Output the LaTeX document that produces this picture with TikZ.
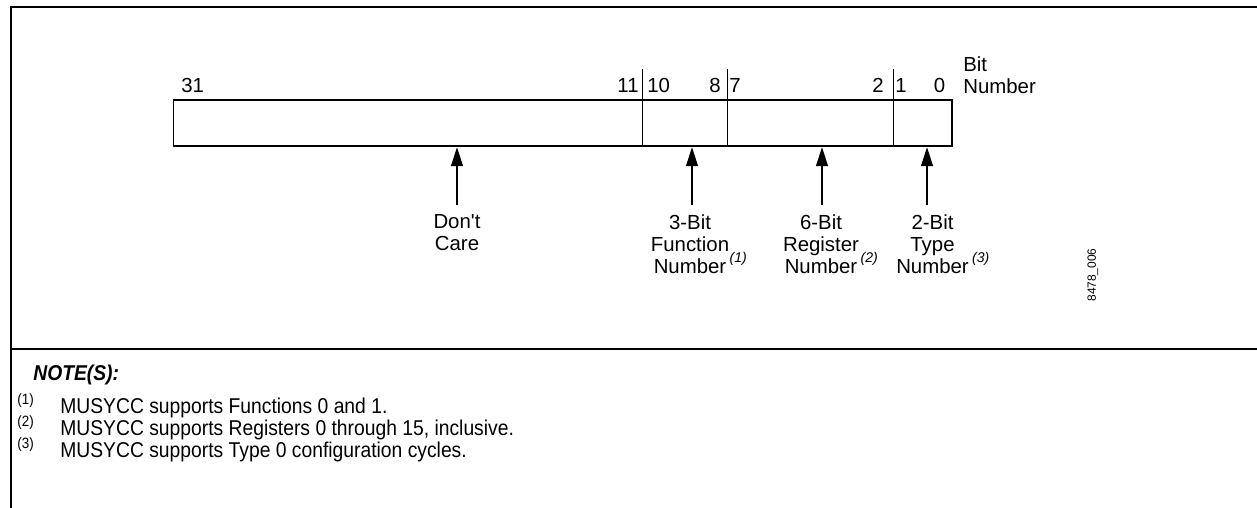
\documentclass[tikz,border=0pt]{standalone}
\usepackage{fontspec}
\setmainfont{Liberation Sans}
\newfontfamily\narrowfont{Liberation Sans}[FakeStretch=0.9]
\usetikzlibrary{arrows.meta}

\newcommand{\labelmark}[1]{\rlap{\,\smash{\raisebox{6.3pt}{\fontsize{8}{9}\selectfont\itshape(#1)}}}}

\begin{document}
\begin{tikzpicture}[
    every node/.style={inner sep=0pt, font=\fontsize{11.6}{12.5}\selectfont},
    frame/.style={line width=1.4pt},
    divider/.style={line width=0.55pt},
    pointer/.style={line width=0.7pt, -{Triangle[length=0.38cm,width=0.24cm]}},
    notetext/.style={anchor=base west, font=\narrowfont\fontsize{12.2}{13}\selectfont},
    notemark/.style={anchor=base west, yshift=5pt, font=\narrowfont\fontsize{8.5}{9}\selectfont}
]
    \useasboundingbox (0,0) rectangle (25.14,-10.16);

    % outer frame and notes rule
    \draw[frame] (0.22,-10.4) -- (0.22,-0.14) -- (25.4,-0.14);
    \draw[frame] (0.22,-6.98) -- (25.4,-6.98);

    %%%%%%%%%%%%%%%%%%%%%%%%%%%%%%%%%%%%
    % the 32-bit word with its fields
    %%%%%%%%%%%%%%%%%%%%%%%%%%%%%%%%%%%%
    \node[draw, line width=1.1pt, minimum width=15.57cm, minimum height=0.93cm] (word) at (11.255,-2.46) {};
    \foreach \x in {12.84,14.54,17.86}
        \draw[divider] (\x,-1.38) -- (\x,-2.92);

    \node[anchor=base west] (b31) at (3.62,-1.84) {31};
    \node[anchor=base east] (b11) at (12.78,-1.84) {11};
    \node[anchor=base west] (b10) at (12.94,-1.84) {10};
    \node[anchor=base east] (b8) at (14.42,-1.84) {8};
    \node[anchor=base west] (b7) at (14.58,-1.84) {7};
    \node[anchor=base east] (b2) at (17.68,-1.84) {2};
    \node[anchor=base west] (b1) at (17.90,-1.84) {1};
    \node[anchor=base] (b0) at (18.79,-1.84) {0};
    \node[anchor=north west, align=left] (bitnum) at (19.26,-1.12) {Bit\\Number};

    % pointers up to the fields
    \coordinate (dcare) at (9.14,-4.10);
    \coordinate (func) at (13.84,-4.10);
    \coordinate (reg) at (16.44,-4.10);
    \coordinate (type) at (18.54,-4.10);
    \draw[pointer] (dcare) -- (dcare |- word.south);
    \draw[pointer] (func) -- (func |- word.south);
    \draw[pointer] (reg) -- (reg |- word.south);
    \draw[pointer] (type) -- (type |- word.south);

    \node[anchor=north, align=center] (dclabel) at (9.14,-4.29) {Don\textquotesingle t\\Care};
    \node[anchor=north, align=center] (funclabel) at (13.80,-4.29) {3-Bit\\Function\\Number\labelmark{1}};
    \node[anchor=north, align=center] (reglabel) at (16.42,-4.29) {6-Bit\\Register\\Number\labelmark{2}};
    \node[anchor=north, align=center] (typelabel) at (18.65,-4.29) {2-Bit\\Type\\Number\labelmark{3}};

    \node[rotate=90, font=\fontsize{6.8}{8}\selectfont] (figid) at (21.86,-5.50) {8478\_006};

    %%%%%%%%%%%%%%%%%%%%%%%%%%%%%%%%%%%%
    % notes
    %%%%%%%%%%%%%%%%%%%%%%%%%%%%%%%%%%%%
    \node[notetext] (head) at (0.66,-7.60) {\bfseries\itshape NOTE(S):};
    \node[notemark] (mark1) at (0.34,-8.27) {(1)};
    \node[notetext] (note1) at (1.20,-8.27) {MUSYCC supports Functions 0 and 1.};
    \node[notemark] (mark2) at (0.34,-8.71) {(2)};
    \node[notetext] (note2) at (1.20,-8.71) {MUSYCC supports Registers 0 through 15, inclusive.};
    \node[notemark] (mark3) at (0.34,-9.15) {(3)};
    \node[notetext] (note3) at (1.20,-9.15) {MUSYCC supports Type 0 configuration cycles.};

\end{tikzpicture}
\end{document}
